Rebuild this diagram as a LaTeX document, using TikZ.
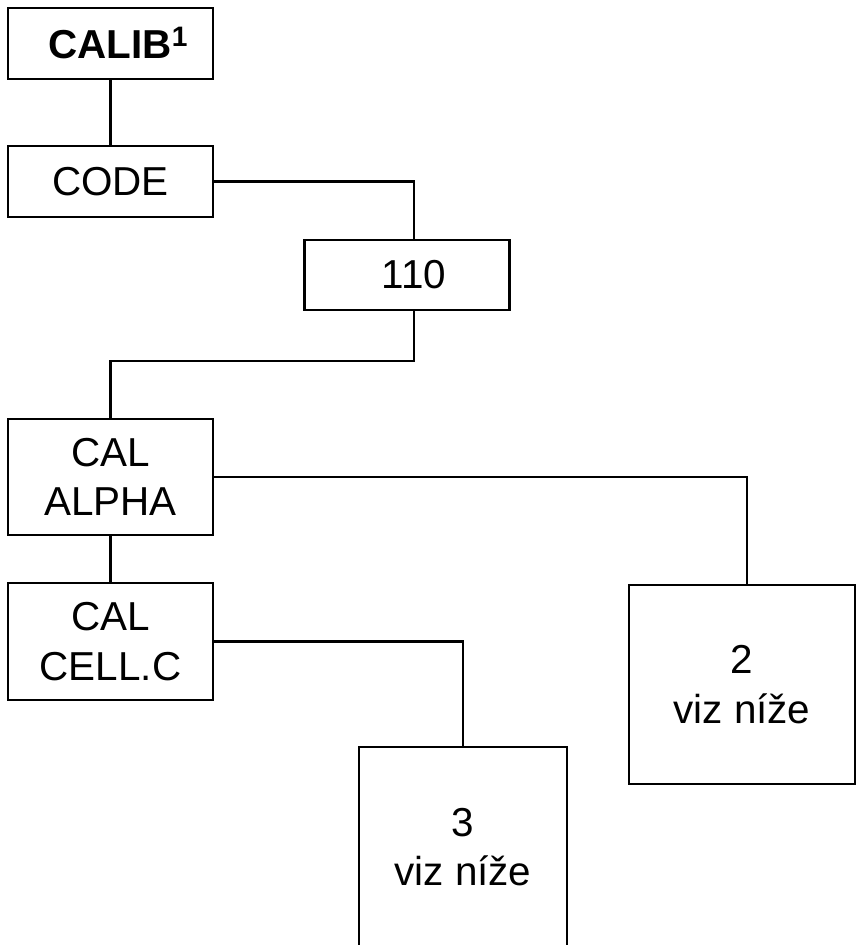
\documentclass[tikz,border=0pt]{standalone}
\usepackage{fontspec}
\setmainfont{Liberation Sans}
\usepackage{tikz}

\begin{document}
\begin{tikzpicture}[x=0.02cm,y=-0.02cm,line width=1.3pt,
  menubox/.style={draw,inner sep=0pt,align=center,font=\fontsize{23}{28}\selectfont,minimum width=4.1cm},
  flat/.style={menubox,minimum height=1.42cm},
  tall/.style={menubox,minimum height=2.33cm}]
\clip (0,0) rectangle (857,945);
% menu boxes
\node[flat] (calib) at (110.5,43.5) {\hspace{0.3cm}\textbf{CALIB\raisebox{0.24cm}{\fontsize{16}{16}\selectfont\bfseries 1}}};
\node[flat] (code) at (110.5,181.5) {CODE};
\node[flat,minimum height=1.4cm] (n110) at (407,275) {\hspace{0.28cm}110};
\node[tall] (alpha) at (110.5,477) {CAL\\ALPHA};
\node[tall] (cell) at (110.5,641.5) {CAL\\CELL.C};
\node[menubox,minimum width=4.52cm,minimum height=3.98cm] (two) at (742,684.5) {2\\viz níže};
\node[menubox,minimum width=4.16cm,minimum height=4cm] (three) at (463,847) {3\\viz níže};
% links
\draw (calib) -- (code);
\draw (code.east) -| ([xshift=0.14cm]n110.north);
\draw ([xshift=0.14cm]n110.south) -- ++(0,50) -| (alpha.north);
\draw (alpha) -- (cell);
\draw (alpha.east) -| ([xshift=0.1cm]two.north);
\draw (cell.east) -| (three.north);
\end{tikzpicture}
\end{document}
